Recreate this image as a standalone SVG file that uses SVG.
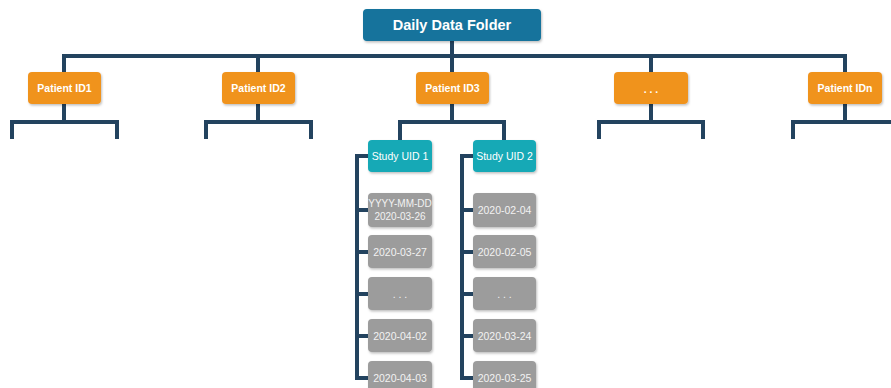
<svg xmlns="http://www.w3.org/2000/svg" width="891" height="388" viewBox="0 0 891 388">
  <defs>
    <filter id="shadow" x="-10%" y="-10%" width="130%" height="140%">
      <feDropShadow dx="1" dy="1.5" stdDeviation="1" flood-color="#000" flood-opacity="0.25"/>
    </filter>
    <style>
      .box { filter: url(#shadow); }
      .root { fill: #13739c; }
      .patient { fill: #f0931f; }
      .study { fill: #14a9b6; }
      .date { fill: #9c9c9c; }
      .lbl { font-family: "Liberation Sans", Arial, sans-serif; fill: #ffffff; text-anchor: middle; dominant-baseline: central; }
      .rootlbl { font-size: 14.5px; font-weight: bold; }
      .plbl { font-size: 10.5px; font-weight: bold; }
      .slbl { font-size: 10.5px; }
      .dlbl { font-size: 10.5px; fill: #f2f2f2; }
      .conn { fill: none; stroke: #23435f; stroke-width: 4; stroke-linejoin: miter; stroke-linecap: butt; }
    </style>
  </defs>
  <rect width="891" height="388" fill="#ffffff"/>

  <!-- connectors -->
  <g id="connectors" class="conn">
    <!-- root to patients -->
    <path d="M452 41 V56"/>
    <path d="M64 74 V56 H845 V74"/>
    <path d="M258 56 V74"/>
    <path d="M452 56 V74"/>
    <path d="M651 56 V74"/>
    <!-- patient stubs -->
    <path d="M64 104 V122"/>
    <path d="M12 139 V122 H117 V139"/>
    <path d="M258 104 V122"/>
    <path d="M206 139 V122 H311 V139"/>
    <path d="M452 104 V122"/>
    <path d="M400 142 V122 H504 V142"/>
    <path d="M651 104 V122"/>
    <path d="M599 139 V122 H703 V139"/>
    <path d="M845 104 V122"/>
    <path d="M793 139 V122 H900"/>
    <!-- study 1 trunk -->
    <path d="M370 156 H357 V378 H370"/>
    <path d="M357 210 H370 M357 252 H370 M357 294 H370 M357 336 H370"/>
    <!-- study 2 trunk -->
    <path d="M475 156 H462 V378 H475"/>
    <path d="M462 210 H475 M462 252 H475 M462 294 H475 M462 336 H475"/>
  </g>

  <!-- root -->
  <g id="root">
    <rect class="box root" x="363" y="9" width="178" height="32" rx="4"/>
    <text class="lbl rootlbl" x="452" y="25">Daily Data Folder</text>
  </g>

  <!-- patients -->
  <g id="patient1">
    <rect class="box patient" x="28" y="72" width="73" height="32" rx="4"/>
    <text class="lbl plbl" x="64.5" y="88">Patient ID1</text>
  </g>
  <g id="patient2">
    <rect class="box patient" x="222" y="72" width="73" height="32" rx="4"/>
    <text class="lbl plbl" x="258.5" y="88">Patient ID2</text>
  </g>
  <g id="patient3">
    <rect class="box patient" x="416" y="72" width="73" height="32" rx="4"/>
    <text class="lbl plbl" x="452.5" y="88">Patient ID3</text>
  </g>
  <g id="patient-more">
    <rect class="box patient" x="614" y="72" width="74" height="32" rx="4"/>
    <text class="lbl plbl" x="651" y="89">. . .</text>
  </g>
  <g id="patientN">
    <rect class="box patient" x="808" y="72" width="74" height="32" rx="4"/>
    <text class="lbl plbl" x="845" y="88">Patient IDn</text>
  </g>

  <!-- studies -->
  <g id="study1">
    <rect class="box study" x="368" y="140" width="64" height="32" rx="4"/>
    <text class="lbl slbl" x="400" y="156">Study UID 1</text>
  </g>
  <g id="study2">
    <rect class="box study" x="473" y="140" width="63" height="32" rx="4"/>
    <text class="lbl slbl" x="504.5" y="156">Study UID 2</text>
  </g>

  <!-- study 1 dates -->
  <g id="s1-d1">
    <rect class="box date" x="368" y="193" width="64" height="34" rx="4"/>
    <text class="lbl dlbl" x="400" y="203.5" style="font-size:10px">YYYY-MM-DD</text>
    <text class="lbl dlbl" x="400" y="216" style="font-size:10px">2020-03-26</text>
  </g>
  <g id="s1-d2">
    <rect class="box date" x="368" y="235" width="64" height="33" rx="4"/>
    <text class="lbl dlbl" x="400" y="251.5">2020-03-27</text>
  </g>
  <g id="s1-d3">
    <rect class="box date" x="368" y="277" width="64" height="33" rx="4"/>
    <text class="lbl dlbl" x="400" y="294">. . .</text>
  </g>
  <g id="s1-d4">
    <rect class="box date" x="368" y="319" width="64" height="33" rx="4"/>
    <text class="lbl dlbl" x="400" y="335.5">2020-04-02</text>
  </g>
  <g id="s1-d5">
    <rect class="box date" x="368" y="361" width="64" height="33" rx="4"/>
    <text class="lbl dlbl" x="400" y="377.5">2020-04-03</text>
  </g>

  <!-- study 2 dates -->
  <g id="s2-d1">
    <rect class="box date" x="473" y="193" width="63" height="34" rx="4"/>
    <text class="lbl dlbl" x="504.5" y="210">2020-02-04</text>
  </g>
  <g id="s2-d2">
    <rect class="box date" x="473" y="235" width="63" height="33" rx="4"/>
    <text class="lbl dlbl" x="504.5" y="251.5">2020-02-05</text>
  </g>
  <g id="s2-d3">
    <rect class="box date" x="473" y="277" width="63" height="33" rx="4"/>
    <text class="lbl dlbl" x="504.5" y="294">. . .</text>
  </g>
  <g id="s2-d4">
    <rect class="box date" x="473" y="319" width="63" height="33" rx="4"/>
    <text class="lbl dlbl" x="504.5" y="335.5">2020-03-24</text>
  </g>
  <g id="s2-d5">
    <rect class="box date" x="473" y="361" width="63" height="33" rx="4"/>
    <text class="lbl dlbl" x="504.5" y="377.5">2020-03-25</text>
  </g>
</svg>
